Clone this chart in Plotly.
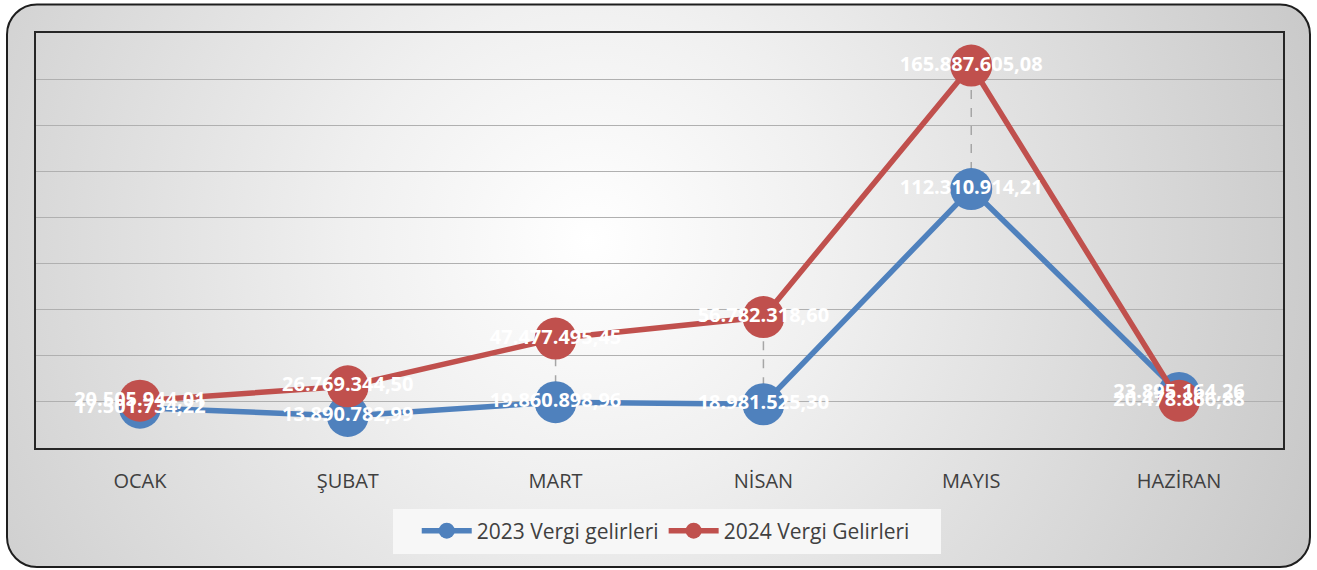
import base64
import plotly.graph_objects as go

months = ["OCAK", "ŞUBAT", "MART", "NİSAN", "MAYIS", "HAZİRAN"]
v2023 = [17501734.22, 13890782.99, 19860898.96, 18981525.30, 112310914.21, 23895164.26]
v2024 = [20505944.01, 26769344.50, 47477495.45, 56782318.60, 165887605.08, 20478866.88]
lbl2023 = ["17.501.734,22", "13.890.782,99", "19.860.898,96", "18.981.525,30", "112.310.914,21", "23.895.164,26"]
lbl2024 = ["20.505.944,01", "26.769.344,50", "47.477.495,45", "56.782.318,60", "165.887.605,08", "20.478.866,88"]
names = ["2023 Vergi gelirleri", "2024 Vergi Gelirleri"]

BLUE = "#4F81BD"
RED = "#C0504D"
W, H = 1317, 570
L, R, T, B = 36, 34, 33, 122
pw, ph = W - L - R, H - T - B

svg = f'''<svg xmlns="http://www.w3.org/2000/svg" width="{W}" height="{H}" viewBox="0 0 {W} {H}">
<defs><radialGradient id="g" cx="590" cy="240" r="800" gradientUnits="userSpaceOnUse">
<stop offset="0" stop-color="#FFFFFF"/><stop offset="0.3" stop-color="#F0F0F0"/><stop offset="1" stop-color="#C6C6C6"/></radialGradient></defs>
<rect x="7" y="4.5" width="1303" height="562.5" rx="30" ry="30" fill="url(#g)" stroke="#1E1E1E" stroke-width="2"/>
<rect x="393" y="509" width="548" height="45" fill="#F7F7F7"/>
</svg>'''
src = "data:image/svg+xml;base64," + base64.b64encode(svg.encode()).decode()

fig = go.Figure()

# drop lines between the two series
dx, dy = [], []
for m, a, b in zip(months, v2023, v2024):
    dx += [m, m, None]
    dy += [a, b, None]
fig.add_trace(go.Scatter(x=dx, y=dy, mode="lines", line=dict(color="#A6A6A6", width=1.5, dash="dash"),
                         showlegend=False, hoverinfo="skip"))

fig.add_trace(go.Scatter(x=months, y=v2023, name=names[0], mode="lines+markers",
                         line=dict(color=BLUE, width=5.5), marker=dict(size=42, color=BLUE)))
fig.add_trace(go.Scatter(x=months, y=v2024, name=names[1], mode="lines+markers",
                         line=dict(color=RED, width=5.5), marker=dict(size=42, color=RED)))

lblfont = dict(family="Open Sans", size=20, color="white", weight="bold")
fig.add_trace(go.Scatter(x=months, y=v2023, mode="text", text=lbl2023, textposition="middle center",
                         textfont=lblfont, showlegend=False, hoverinfo="skip"))
fig.add_trace(go.Scatter(x=months, y=v2024, mode="text", text=lbl2024, textposition="middle center",
                         textfont=lblfont, showlegend=False, hoverinfo="skip"))

fig.update_layout(
    width=W, height=H,
    margin=dict(l=L, r=R, t=T, b=B),
    paper_bgcolor="white", plot_bgcolor="rgba(0,0,0,0)",
    font=dict(family="Open Sans", color="#404040"),
    showlegend=True,
    legend=dict(orientation="h", x=0.505, y=-0.2, xanchor="center", yanchor="middle",
                font=dict(size=21, color="#404040"), bgcolor="rgba(0,0,0,0)", itemwidth=50),
    images=[dict(source=src, xref="paper", yref="paper", x=-L / pw, y=1 + T / ph,
                 sizex=W / pw, sizey=H / ph, sizing="stretch", layer="below",
                 xanchor="left", yanchor="top")],
)
fig.update_xaxes(range=[-0.5, 5.5], showgrid=False, showline=True, mirror=True, linecolor="#262626", linewidth=2,
                 tickfont=dict(size=20, color="#404040"), ticks="", ticklabelstandoff=14)
fig.update_yaxes(range=[0, 180000000], dtick=20000000, showgrid=True, gridcolor="#B0B0B0", gridwidth=1,
                 showticklabels=False, showline=True, mirror=True, linecolor="#262626", linewidth=2,
                 zeroline=False)

fig.write_html("out.html", config={"displayModeBar": False},
               post_script="document.body.style.margin='0';document.body.style.overflow='hidden';")
